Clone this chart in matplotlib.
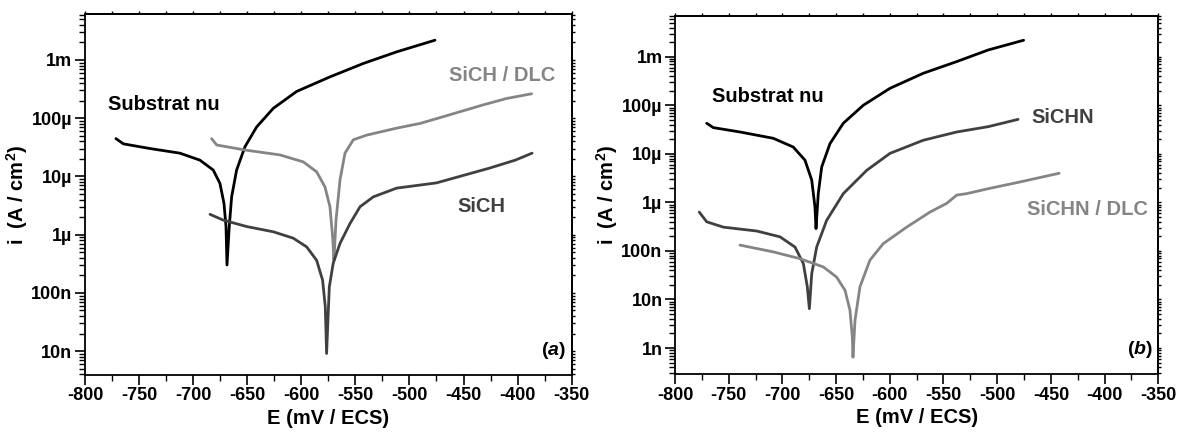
import matplotlib
matplotlib.use("Agg")
import math
import matplotlib.pyplot as plt
from matplotlib.ticker import FuncFormatter, MultipleLocator, LogLocator, NullFormatter

plt.rcParams['font.family'] = ['Liberation Sans', 'DejaVu Sans']
plt.rcParams['font.weight'] = 'bold'
plt.rcParams['axes.unicode_minus'] = False
plt.rcParams['mathtext.fontset'] = 'custom'
plt.rcParams['mathtext.rm'] = 'Liberation Sans:bold'
plt.rcParams['mathtext.bf'] = 'Liberation Sans:bold'
plt.rcParams['mathtext.it'] = 'Liberation Sans:italic:bold'
plt.rcParams['lines.solid_joinstyle'] = 'round'
plt.rcParams['lines.solid_capstyle'] = 'round'

# ---- (a) courbes de polarisation (E en mV, log10 de i) ----
sub_a_E = [-771.4, -764.5, -740, -712.2, -693.7, -681.4, -675.2, -671.5, -669.6, -668.7,
           -666.6, -664.4, -659.8, -652.1, -641.3, -625.9, -604.3, -573.5, -542.7, -511.8, -476.4]
sub_a_i = [-4.35, -4.44, -4.52, -4.60, -4.72, -4.89, -5.12, -5.46, -5.86, -6.52,
           -5.86, -5.35, -4.89, -4.49, -4.15, -3.83, -3.54, -3.29, -3.06, -2.86, -2.66]

dlc_a_E = [-682.9, -678.2, -650.5, -619.7, -598.1, -585.8, -578.1, -573.5, -571, -569.8,
           -567.9, -564.2, -559.6, -551.9, -539.5, -511.8, -490.3, -471.8, -431.7, -410, -387]
dlc_a_i = [-4.35, -4.46, -4.55, -4.63, -4.75, -4.92, -5.18, -5.52, -6.04, -6.44,
           -5.75, -5.06, -4.60, -4.37, -4.29, -4.17, -4.09, -3.99, -3.77, -3.66, -3.58]

sich_E = [-684.4, -672.1, -650.5, -625.9, -607.4, -595, -585.8, -580.3, -577.8, -576.6,
          -574.1, -570.5, -564.2, -555, -545.7, -533.4, -511.8, -474.9, -444, -426.6, -402.2, -386.6]
sich_i = [-5.65, -5.75, -5.86, -5.95, -6.06, -6.21, -6.44, -6.78, -7.24, -8.04,
          -6.90, -6.49, -6.15, -5.81, -5.52, -5.35, -5.20, -5.11, -4.95, -4.86, -4.72, -4.60]

# ---- (b) ----
sub_b_E = [-770.5, -764.3, -739.5, -708.5, -689.9, -679, -672.7, -669.7, -668.7,
           -666.6, -663.4, -655.7, -643.3, -624.7, -599.8, -568.8, -537.7, -508.3, -475.4]
sub_b_i = [-4.37, -4.46, -4.55, -4.68, -4.86, -5.13, -5.54, -6.09, -6.54,
           -5.82, -5.27, -4.79, -4.37, -4.00, -3.65, -3.34, -3.10, -2.86, -2.66]

sichn_E = [-777.4, -770.5, -755, -723.9, -702.2, -688.3, -680.5, -676.8, -674.9,
           -672.7, -668.1, -658.8, -643.3, -621.5, -599.8, -568.8, -537.7, -508.3, -480.6]
sichn_i = [-6.20, -6.40, -6.51, -6.59, -6.71, -6.92, -7.26, -7.74, -8.19,
           -7.47, -6.92, -6.37, -5.82, -5.34, -4.99, -4.72, -4.55, -4.44, -4.29]

dlc_b_E = [-739.5, -708.5, -683.6, -661.9, -649.5, -641.7, -637.1, -634.9, -634.3,
           -632.4, -627.8, -618.5, -606.1, -584.3, -562.6, -547, -537.7, -528.4, -506.7, -478.9, -442.3]
dlc_b_i = [-6.88, -7.02, -7.16, -7.33, -7.54, -7.81, -8.22, -8.77, -9.19,
           -8.43, -7.74, -7.19, -6.85, -6.51, -6.20, -6.02, -5.85, -5.82, -5.71, -5.58, -5.40]

NOIR = '#000000'
FONCE = '#404040'
CLAIR = '#858585'

prefixes = {-3: '1m', -4: '100µ', -5: '10µ', -6: '1µ', -7: '100n', -8: '10n', -9: '1n'}


def fmt(v, pos):
    e = round(math.log10(v))
    return prefixes.get(e, '')


def regler_axe(ax, ylim):
    ax.set_yscale('log')
    ax.set_xlim(-800, -350)
    ax.set_ylim(*ylim)
    ax.xaxis.set_major_locator(MultipleLocator(50))
    ax.xaxis.set_minor_locator(MultipleLocator(25))
    ax.yaxis.set_major_locator(LogLocator(base=10, numticks=20))
    ax.yaxis.set_minor_locator(LogLocator(base=10, subs=range(2, 10), numticks=20))
    ax.yaxis.set_major_formatter(FuncFormatter(fmt))
    ax.yaxis.set_minor_formatter(NullFormatter())
    ax.tick_params(which='major', direction='out', length=7, width=1.2, labelsize=13, pad=2)
    ax.tick_params(which='minor', direction='out', length=4, width=1)
    for s in ax.spines.values():
        s.set_linewidth(1.3)
    ax.set_xlabel('E (mV / ECS)', fontsize=14.5, fontweight='bold', labelpad=3)
    ax.set_ylabel('i  (A / cm$^2$)', fontsize=14.5, fontweight='bold', labelpad=1)
    # petits traits sur les bords haut et droit
    haut = ax.secondary_xaxis('top')
    haut.xaxis.set_major_locator(MultipleLocator(50))
    haut.xaxis.set_minor_locator(MultipleLocator(25))
    haut.tick_params(which='both', direction='out', length=2.5, width=1, labeltop=False)
    haut.spines['top'].set_linewidth(1.3)
    droite = ax.secondary_yaxis('right')
    droite.yaxis.set_major_locator(LogLocator(base=10, numticks=20))
    droite.yaxis.set_minor_locator(LogLocator(base=10, subs=range(2, 10), numticks=20))
    droite.tick_params(which='both', direction='out', length=2.5, width=1, labelright=False)
    droite.spines['right'].set_linewidth(1.3)


fig = plt.figure(figsize=(11.77, 4.33), dpi=100)
ax1 = fig.add_axes([0.0722, 0.134, 0.4135, 0.834])
ax2 = fig.add_axes([0.5735, 0.136, 0.4106, 0.8277])

lw = 2.0
ax1.plot(sub_a_E, [10 ** v for v in sub_a_i], color=NOIR, lw=lw)
ax1.plot(dlc_a_E, [10 ** v for v in dlc_a_i], color=CLAIR, lw=lw)
ax1.plot(sich_E, [10 ** v for v in sich_i], color=FONCE, lw=lw)
regler_axe(ax1, (3.9e-9, 6.2e-3))

ax1.text(-779, 10 ** -3.77, 'Substrat nu', fontsize=14.5, fontweight='bold', color=NOIR, va='center')
ax1.text(-463, 10 ** -3.26, 'SiCH / DLC', fontsize=14.5, fontweight='bold', color=CLAIR, va='center')
ax1.text(-456, 10 ** -5.52, 'SiCH', fontsize=14.5, fontweight='bold', color=FONCE, va='center')
ax1.text(0.988, 0.04, '($\\mathit{a}$)', transform=ax1.transAxes,
         fontsize=14, fontweight='bold', ha='right', va='bottom')

ax2.plot(sub_b_E, [10 ** v for v in sub_b_i], color=NOIR, lw=lw)
ax2.plot(sichn_E, [10 ** v for v in sichn_i], color=FONCE, lw=lw)
ax2.plot(dlc_b_E, [10 ** v for v in dlc_b_i], color=CLAIR, lw=lw)
regler_axe(ax2, (2.9e-10, 7e-3))

ax2.text(-766, 10 ** -3.81, 'Substrat nu', fontsize=14.5, fontweight='bold', color=NOIR, va='center')
ax2.text(-468, 10 ** -4.25, 'SiCHN', fontsize=14.5, fontweight='bold', color=FONCE, va='center')
ax2.text(-472, 10 ** -6.15, 'SiCHN / DLC', fontsize=14.5, fontweight='bold', color=CLAIR, va='center')
ax2.text(0.988, 0.04, '($\\mathit{b}$)', transform=ax2.transAxes,
         fontsize=14, fontweight='bold', ha='right', va='bottom')

fig.savefig('out.png', dpi=100)
